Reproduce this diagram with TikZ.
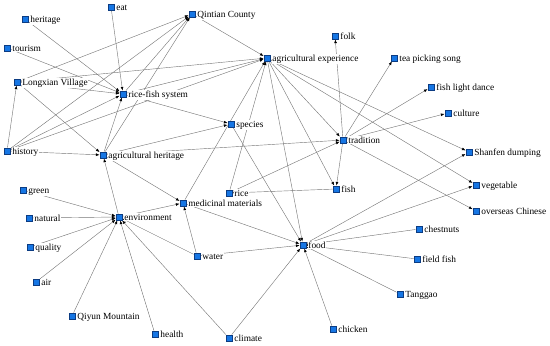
\documentclass[tikz,border=0pt]{standalone}
\usepackage{fontspec}
\setmainfont{Liberation Serif}
\usetikzlibrary{arrows.meta,backgrounds}
\definecolor{nodeblue}{RGB}{22,118,228}
\definecolor{nodeline}{RGB}{12,60,130}
\definecolor{edgegray}{RGB}{118,118,118}

\begin{document}
\begin{tikzpicture}[x=0.025cm, y=-0.025cm,
    sq/.style={draw=nodeline, fill=nodeblue, line width=0.3pt, minimum size=4.6pt, inner sep=0pt},
    lbl/.style={anchor=base west, yshift=-2.3pt, fill=white, inner sep=0.6pt, xshift=0.6pt,
        font=\fontsize{6.66pt}{8pt}\selectfont},
    edge/.style={draw=edgegray, line width=0.3pt, -{Latex[length=2.6pt,width=2pt,color=black]}}]
    \useasboundingbox (0,0) rectangle (550,345);

    % Palabras clave (cuadrado + etiqueta)
    \node[sq] (eat) at (111,7) {};          \node[lbl] (eat-t) at (eat.east) {eat};
    \node[sq] (heritage) at (25,19) {};     \node[lbl] (heritage-t) at (heritage.east) {heritage};
    \node[sq] (qintian) at (192,14) {};     \node[lbl] (qintian-t) at (qintian.east) {Qintian County};
    \node[sq] (tourism) at (7,48) {};       \node[lbl] (tourism-t) at (tourism.east) {tourism};
    \node[sq] (longxian) at (17,82) {};     \node[lbl] (longxian-t) at (longxian.east) {Longxian Village};
    \node[sq] (ricefish) at (123,94) {};    \node[lbl] (ricefish-t) at (ricefish.east) {rice-fish system};
    \node[sq] (species) at (231,124) {};    \node[lbl] (species-t) at (species.east) {species};
    \node[sq] (history) at (7,151) {};      \node[lbl] (history-t) at (history.east) {history};
    \node[sq] (agheritage) at (103,155) {}; \node[lbl] (agheritage-t) at (agheritage.east) {agricultural heritage};
    \node[sq] (agexp) at (267,58) {};       \node[lbl] (agexp-t) at (agexp.east) {agricultural experience};
    \node[sq] (folk) at (335,36) {};        \node[lbl] (folk-t) at (folk.east) {folk};
    \node[sq] (tea) at (394,58) {};         \node[lbl] (tea-t) at (tea.east) {tea picking song};
    \node[sq] (dance) at (431,87) {};       \node[lbl] (dance-t) at (dance.east) {fish light dance};
    \node[sq] (culture) at (448,113) {};    \node[lbl] (culture-t) at (culture.east) {culture};
    \node[sq] (tradition) at (343,140) {};  \node[lbl] (tradition-t) at (tradition.east) {tradition};
    \node[sq] (shanfen) at (469,152) {};    \node[lbl] (shanfen-t) at (shanfen.east) {Shanfen dumping};
    \node[sq] (green) at (23,190) {};       \node[lbl] (green-t) at (green.east) {green};
    \node[sq] (natural) at (29,218) {};     \node[lbl] (natural-t) at (natural.east) {natural};
    \node[sq] (environment) at (119,217) {};\node[lbl] (environment-t) at (environment.east) {environment};
    \node[sq] (medicinal) at (183,203) {};  \node[lbl] (medicinal-t) at (medicinal.east) {medicinal materials};
    \node[sq] (rice) at (229,193) {};       \node[lbl] (rice-t) at (rice.east) {rice};
    \node[sq] (quality) at (30,247) {};     \node[lbl] (quality-t) at (quality.east) {quality};
    \node[sq] (water) at (197,256) {};      \node[lbl] (water-t) at (water.east) {water};
    \node[sq] (air) at (36,282) {};         \node[lbl] (air-t) at (air.east) {air};
    \node[sq] (qiyun) at (72,316) {};       \node[lbl] (qiyun-t) at (qiyun.east) {Qiyun Mountain};
    \node[sq] (health) at (155,334) {};     \node[lbl] (health-t) at (health.east) {health};
    \node[sq] (climate) at (229,338) {};    \node[lbl] (climate-t) at (climate.east) {climate};
    \node[sq] (fish) at (336,189) {};       \node[lbl] (fish-t) at (fish.east) {fish};
    \node[sq] (vegetable) at (476,185) {};  \node[lbl] (vegetable-t) at (vegetable.east) {vegetable};
    \node[sq] (overseas) at (476,211) {};   \node[lbl] (overseas-t) at (overseas.east) {overseas Chinese};
    \node[sq] (chestnuts) at (419,229) {};  \node[lbl] (chestnuts-t) at (chestnuts.east) {chestnuts};
    \node[sq] (food) at (303,245) {};       \node[lbl] (food-t) at (food.east) {food};
    \node[sq] (fieldfish) at (417,259) {};  \node[lbl] (fieldfish-t) at (fieldfish.east) {field fish};
    \node[sq] (tanggao) at (400,294) {};    \node[lbl] (tanggao-t) at (tanggao.east) {Tanggao};
    \node[sq] (chicken) at (333,329) {};    \node[lbl] (chicken-t) at (chicken.east) {chicken};

    \begin{pgfonlayer}{background}
    % Hacia rice-fish system
    \draw[edge] (eat) -- (ricefish);
    \draw[edge] (heritage) -- (ricefish);
    \draw[edge] (tourism) -- (ricefish);
    \draw[edge] (longxian) -- (ricefish);
    \draw[edge] (history) -- (ricefish);
    \draw[edge] (agheritage) -- (ricefish);
    % Hacia Qintian County
    \draw[edge] (longxian) -- (qintian);
    \draw[edge] (history) -- (qintian);
    \draw[edge] (ricefish) -- (qintian);
    \draw[edge] (agheritage) -- (qintian);
    % Hacia agricultural experience
    \draw[edge] (qintian) -- (agexp);
    \draw[edge] (longxian) -- (agexp);
    \draw[edge] (ricefish) -- (agexp);
    \draw[edge] (history) -- (agexp);
    \draw[edge] (medicinal) -- (agexp);
    \draw[edge] (rice) -- (agexp);
    % history y agricultural heritage
    \draw[edge] (history) -- (longxian);
    \draw[edge] (history) -- (agheritage);
    \draw[edge] (longxian) -- (agheritage);
    \draw[edge] (ricefish) -- (species);
    \draw[edge] (agheritage) -- (species);
    \draw[edge] (agheritage) -- (tradition);
    \draw[edge] (agheritage) -- (medicinal);
    \draw[edge] (environment) -- (agheritage);
    % Hacia environment
    \draw[edge] (health) -- (environment);
    \draw[edge] (green) -- (environment);
    \draw[edge] (natural) -- (environment);
    \draw[edge] (quality) -- (environment);
    \draw[edge] (air) -- (environment);
    \draw[edge] (qiyun) -- (environment);
    \draw[edge] (water) -- (environment);
    \draw[edge] (climate) -- (environment);
    \draw[edge] (environment) -- (medicinal);
    \draw[edge] (water) -- (medicinal);
    % Hacia food
    \draw[edge] (climate) -- (food);
    \draw[edge] (water) -- (food);
    \draw[edge] (medicinal) -- (food);
    \draw[edge] (species) -- (food);
    \draw[edge] (agexp) -- (food);
    \draw[edge] (chicken) -- (food);
    \draw[edge] (chestnuts) -- (food);
    \draw[edge] (fieldfish) -- (food);
    \draw[edge] (tanggao) -- (food);
    \draw[edge] (food) -- (shanfen);
    \draw[edge] (food) -- (vegetable);
    % Desde agricultural experience y tradition
    \draw[edge] (agexp) -- (shanfen);
    \draw[edge] (agexp) -- (vegetable);
    \draw[edge] (agexp) -- (tradition);
    \draw[edge] (agexp) -- (fish);
    \draw[edge] (tradition) -- (folk);
    \draw[edge] (tradition) -- (tea);
    \draw[edge] (tradition) -- (dance);
    \draw[edge] (tradition) -- (culture);
    \draw[edge] (tradition) -- (fish);
    \draw[edge] (tradition) -- (overseas);
    \draw[edge] (rice) -- (tradition);
    \draw[edge] (fish) -- (rice);
    \end{pgfonlayer}
\end{tikzpicture}
\end{document}
